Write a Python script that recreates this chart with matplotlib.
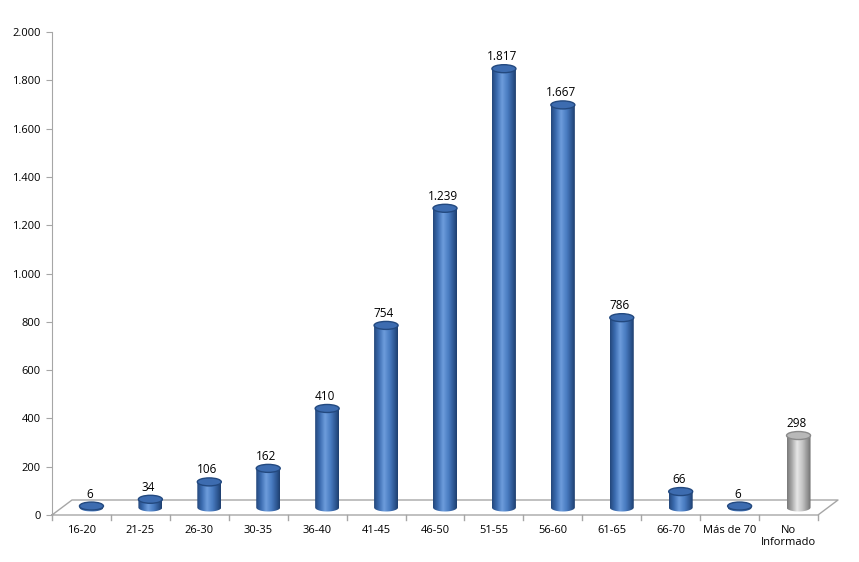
import numpy as np
import matplotlib.pyplot as plt
from matplotlib.patches import Ellipse, Polygon
from matplotlib.colors import LinearSegmentedColormap
from matplotlib.ticker import FuncFormatter

# Datos
categorias = ["16-20", "21-25", "26-30", "30-35", "36-40", "41-45", "46-50",
              "51-55", "56-60", "61-65", "66-70", "Más de 70", "No\nInformado"]
valores = [6, 34, 106, 162, 410, 754, 1239, 1817, 1667, 786, 66, 6, 298]
gris = [False] * 12 + [True]

plt.rcParams['font.family'] = ['Open Sans', 'DejaVu Sans']

W, H = 859, 562
fig = plt.figure(figsize=(W / 100, H / 100), dpi=100)
ax = fig.add_axes([52 / W, (H - 515) / H, 766 / W, (515 - 32) / H])
n = len(categorias)
ax.set_xlim(0, n)
ax.set_ylim(0, 2000)

# escala px -> datos
px_x = n / 766
px_y = 2000 / (515 - 32)

# "suelo" 3D
dx, dy = 20 * px_x, 15 * px_y
linea = "#a6a6a6"
ax.plot([0, dx, n + dx, n, 0], [0, dy, dy, 0, 0], color=linea, lw=1, clip_on=False, zorder=1)
for i in range(n + 1):
    ax.plot([i, i], [0, -5 * px_y], color=linea, lw=1, clip_on=False)

ax.spines[['top', 'right', 'bottom']].set_visible(False)
ax.spines['left'].set_color(linea)
ax.set_yticks(np.arange(0, 2001, 200))
ax.yaxis.set_major_formatter(FuncFormatter(lambda v, p: f"{int(v):,}".replace(",", ".")))
ax.tick_params(axis='y', length=4, color=linea, labelsize=8, pad=4)
ax.set_xticks([])
for i, c in enumerate(categorias):
    ax.text(i + 0.5, -10 * px_y, c, ha='center', va='top', fontsize=8, linespacing=1.15,
            clip_on=False)

# cilindros
bw = 24 * px_x
eh = 8 * px_y
pos = [0, 0.2, 0.42, 0.65, 0.88, 1]
azul = ["#24487c", "#3b6cb0", "#6d9cdc", "#4a7dc2", "#2c5590", "#1f3f6e"]
gris_c = ["#7a7a7a", "#a8a8a8", "#e6e6e6", "#c4c4c4", "#8f8f8f", "#6e6e6e"]
cm_azul = LinearSegmentedColormap.from_list("azul", list(zip(pos, azul)))
cm_gris = LinearSegmentedColormap.from_list("gris", list(zip(pos, gris_c)))
grad = np.linspace(0, 1, 64).reshape(1, -1)

for i, (v, g) in enumerate(zip(valores, gris)):
    cx = i + 0.5 + dx / 2
    base = dy / 2
    top = base + v
    t = np.linspace(np.pi, 2 * np.pi, 40)
    arco = np.column_stack([cx + bw / 2 * np.cos(t), base + eh / 2 * np.sin(t)])
    pts = np.vstack([[[cx - bw / 2, top]], arco, [[cx + bw / 2, top]]])
    cuerpo = Polygon(pts, closed=True, facecolor='none', edgecolor='none', transform=ax.transData)
    ax.add_patch(cuerpo)
    im = ax.imshow(grad, cmap=cm_gris if g else cm_azul, aspect='auto',
                   extent=[cx - bw / 2, cx + bw / 2, base - eh, top], zorder=3)
    im.set_clip_path(cuerpo)
    ec = "#8a8a8a" if g else "#23497f"
    fc = "#b8b8b8" if g else "#3d6cb0"
    ax.add_patch(Ellipse((cx, top), bw, eh, facecolor=fc, edgecolor=ec, lw=1, zorder=4))
    ax.text(cx - 2 * px_x, top + eh / 2 + 1.5 * px_y, f"{v:,}".replace(",", "."),
            ha='center', va='bottom', fontsize=8.5, zorder=5)

fig.savefig("out.png", dpi=100)
